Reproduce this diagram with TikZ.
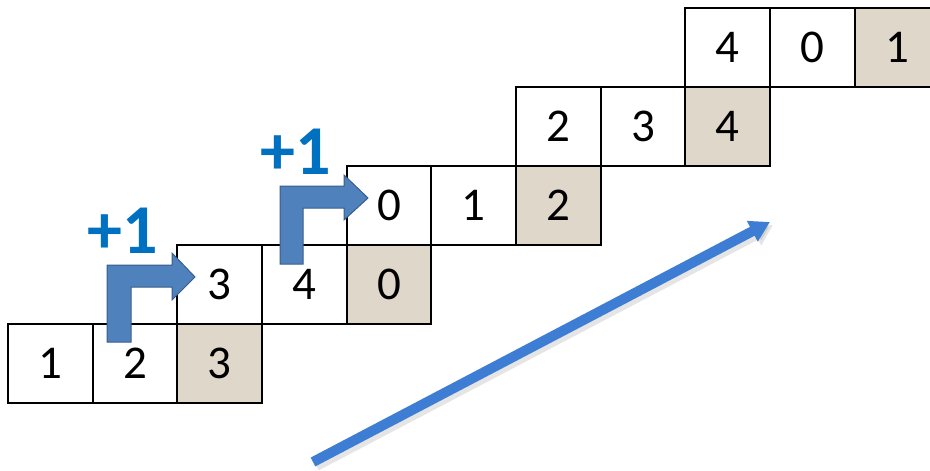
\documentclass[tikz,border=0pt]{standalone}
\usepackage{fontspec}
\setmainfont{Carlito}
\usetikzlibrary{arrows.meta}
\definecolor{cellshade}{RGB}{222,215,202}
\definecolor{bentfill}{RGB}{79,129,189}
\definecolor{bentedge}{RGB}{56,93,138}
\definecolor{plusblue}{RGB}{0,112,192}
\definecolor{longblue}{RGB}{62,125,212}
\tikzset{
  cell/.style={draw=black, line width=2pt, minimum width=84.67pt, minimum height=79pt,
    inner sep=0pt, outer sep=0pt, font=\fontsize{47}{47}\selectfont, text=black},
  shadecell/.style={cell, fill=cellshade},
  bentarrow/.style={fill=bentfill, draw=bentedge, line width=1pt, line join=miter},
  pluslabel/.style={text=plusblue, font=\bfseries\fontsize{70}{70}\selectfont, inner sep=0pt},
  longarrow/.style={draw=longblue, line width=10pt, -{Triangle[length=20pt,width=22pt]}},
  longshadow/.style={draw=black, opacity=0.10, line width=12pt, -{Triangle[length=20pt,width=24pt]}}
}
\begin{document}
\begin{tikzpicture}[x=1pt,y=-1pt]
\useasboundingbox (0,0) rectangle (930,471);
% rows of cells
\foreach \r/\a/\b/\c in {0/1/2/3, 1/3/4/0, 2/0/1/2, 3/2/3/4, 4/4/0/1}{
  \pgfmathsetmacro{\xo}{8+\r*169.33}
  \pgfmathsetmacro{\yo}{324-\r*79+39.5}
  \node[cell] (c\r a) at ({\xo+42.33},\yo) {\raisebox{-3pt}{\a}};
  \node[cell] (c\r b) at ({\xo+127},\yo) {\raisebox{-3pt}{\b}};
  \node[shadecell] (c\r c) at ({\xo+211.67},\yo) {\raisebox{-3pt}{\c}};
}
% bent arrows
\path[bentarrow] (107,342) -- (107,265) -- (172,265) -- (172,253) -- (195,277)
  -- (172,300) -- (172,287) -- (131,287) -- (131,342) -- cycle;
\path[bentarrow] (280,264) -- (280,186) -- (344,186) -- (344,175) -- (368,198)
  -- (344,220) -- (344,208) -- (303,208) -- (303,264) -- cycle;
% labels
\node[pluslabel] (p1) at (123,231) {+1};
\node[pluslabel] (p2) at (296,152) {+1};
% long arrow
\coordinate (la) at (313,462);
\coordinate (lb) at (770,222);
\coordinate (sa) at (316,465);
\coordinate (sb) at (773,225);
\draw[longshadow] (sa) -- (sb);
\draw[longarrow] (la) -- (lb);
\end{tikzpicture}
\end{document}
